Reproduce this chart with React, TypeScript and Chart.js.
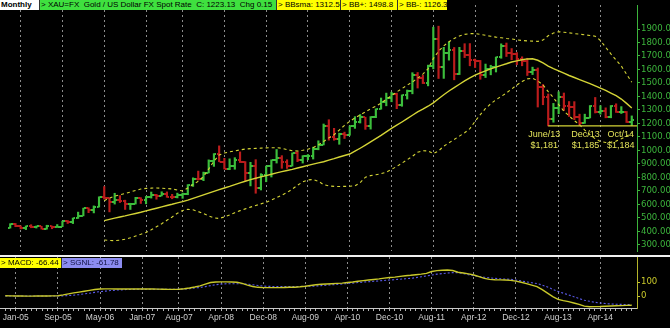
import React, { useEffect, useRef } from 'react';
import { Chart, registerables } from 'chart.js';
Chart.register(...registerables);

const months = [
  'Nov-04','Dec-04',
  'Jan-05','Feb-05','Mar-05','Apr-05','May-05','Jun-05','Jul-05','Aug-05','Sep-05','Oct-05','Nov-05','Dec-05',
  'Jan-06','Feb-06','Mar-06','Apr-06','May-06','Jun-06','Jul-06','Aug-06','Sep-06','Oct-06','Nov-06','Dec-06',
  'Jan-07','Feb-07','Mar-07','Apr-07','May-07','Jun-07','Jul-07','Aug-07','Sep-07','Oct-07','Nov-07','Dec-07',
  'Jan-08','Feb-08','Mar-08','Apr-08','May-08','Jun-08','Jul-08','Aug-08','Sep-08','Oct-08','Nov-08','Dec-08',
  'Jan-09','Feb-09','Mar-09','Apr-09','May-09','Jun-09','Jul-09','Aug-09','Sep-09','Oct-09','Nov-09','Dec-09',
  'Jan-10','Feb-10','Mar-10','Apr-10','May-10','Jun-10','Jul-10','Aug-10','Sep-10','Oct-10','Nov-10','Dec-10',
  'Jan-11','Feb-11','Mar-11','Apr-11','May-11','Jun-11','Jul-11','Aug-11','Sep-11','Oct-11','Nov-11','Dec-11',
  'Jan-12','Feb-12','Mar-12','Apr-12','May-12','Jun-12','Jul-12','Aug-12','Sep-12','Oct-12','Nov-12','Dec-12',
  'Jan-13','Feb-13','Mar-13','Apr-13','May-13','Jun-13','Jul-13','Aug-13','Sep-13','Oct-13','Nov-13','Dec-13',
  'Jan-14','Feb-14','Mar-14','Apr-14','May-14','Jun-14','Jul-14','Aug-14','Sep-14','Oct-14'
];

const tickLabels = ['Jan-05','Sep-05','May-06','Jan-07','Aug-07','Apr-08','Dec-08','Aug-09','Apr-10','Dec-10','Aug-11','Apr-12','Dec-12','Aug-13','Apr-14'];

const opens = [
  425.5,452.6,
  438.0,422.1,435.6,428.5,435.6,417.0,436.5,429.6,433.5,473.5,470.2,495.6,
  513.0,568.8,556.0,582.0,654.5,643.2,613.7,633.4,625.0,599.0,604.3,646.8,
  632.0,650.5,665.0,663.0,678.8,656.3,650.5,665.5,672.5,743.0,789.3,783.6,
  834.4,923.3,971.5,916.2,863.0,885.8,928.3,912.3,833.0,884.5,718.0,815.5,
  882.1,927.2,941.6,916.5,883.4,979.2,927.1,954.6,955.1,1008.0,1040.3,1182.0,
  1096.2,1081.5,1118.5,1113.3,1179.3,1213.2,1244.0,1181.0,1248.0,1307.0,1357.5,1386.1,
  1421.1,1333.0,1409.8,1439.0,1556.0,1536.5,1500.2,1628.3,1826.0,1620.0,1722.0,1746.0,
  1565.0,1737.0,1710.0,1669.0,1664.0,1561.0,1604.0,1615.0,1692.0,1773.0,1719.0,1713.0,
  1675.0,1663.0,1578.0,1595.0,1472.0,1393.0,1234.0,1313.0,1395.0,1326.0,1323.0,1250.0,
  1202.0,1240.0,1326.0,1284.0,1295.0,1250.0,1327.0,1282.0,1287.0,1210.0
];
const highs = [
  455.0,456.9,
  438.9,438.2,447.3,438.0,436.0,443.5,437.5,448.5,474.0,478.5,497.0,540.9,
  570.5,573.0,587.0,654.5,730.4,645.6,680.8,663.0,629.5,606.5,650.6,648.0,
  657.0,690.1,672.7,692.0,691.0,672.7,681.8,682.4,745.2,795.3,845.4,838.0,
  928.8,975.0,1032.7,940.0,936.5,945.0,988.0,915.8,910.5,930.0,826.0,883.0,
  929.0,1006.0,960.0,929.6,980.2,990.0,960.2,968.5,1023.0,1070.3,1195.0,1226.6,
  1162.8,1126.8,1134.8,1180.1,1249.4,1265.3,1245.5,1250.0,1307.5,1387.9,1424.3,1431.0,
  1424.0,1411.0,1447.3,1575.8,1577.3,1556.0,1632.0,1913.5,1921.2,1764.0,1804.0,1763.0,
  1764.0,1791.0,1792.0,1677.0,1667.0,1640.0,1631.0,1692.0,1790.0,1796.0,1755.0,1725.0,
  1694.0,1683.0,1617.0,1611.0,1488.0,1418.0,1348.0,1434.0,1425.0,1362.0,1361.0,1268.0,
  1268.0,1332.0,1392.0,1331.0,1315.0,1332.0,1345.0,1324.0,1288.0,1255.0
];
const lows = [
  422.3,432.6,
  416.2,411.1,425.0,422.6,414.7,414.5,417.5,427.5,432.5,456.5,455.7,494.1,
  513.0,536.9,535.0,578.5,637.5,542.7,600.5,612.0,560.8,560.5,600.9,605.1,
  602.4,645.0,636.8,661.0,651.0,640.1,646.3,643.1,670.0,731.7,778.6,774.2,
  832.0,880.4,915.0,860.8,855.7,859.1,908.7,775.8,735.5,681.0,705.0,766.2,
  801.5,905.0,866.0,865.0,882.6,915.2,905.0,929.5,935.0,1003.5,1039.6,1075.0,
  1074.5,1044.5,1087.5,1111.5,1162.6,1202.3,1155.3,1157.1,1242.0,1305.0,1330.0,1360.0,
  1308.8,1326.5,1380.4,1419.0,1462.0,1495.0,1478.0,1604.0,1532.7,1533.5,1669.0,1523.0,
  1562.0,1688.0,1627.0,1614.0,1527.0,1540.0,1560.0,1581.0,1683.0,1696.0,1672.0,1635.0,
  1627.0,1555.0,1562.0,1321.0,1338.0,1180.7,1208.0,1271.0,1295.0,1251.0,1227.0,1185.0,
  1200.0,1240.0,1277.0,1268.0,1241.0,1241.0,1281.0,1273.0,1206.0,1184.0
];
const closes = [
  452.6,438.0,
  422.1,435.6,428.5,435.6,417.0,436.5,429.6,433.5,473.5,470.2,495.6,513.0,
  568.8,556.0,582.0,654.5,643.2,613.7,633.4,625.0,599.0,604.3,646.8,632.0,
  650.5,665.0,663.0,678.8,656.3,650.5,665.5,672.5,743.0,789.3,783.6,834.4,
  923.3,971.5,916.2,863.0,885.8,928.3,912.3,833.0,884.5,718.0,815.5,882.1,
  927.2,941.6,916.5,883.4,979.2,927.1,954.6,955.1,1008.0,1040.3,1182.0,1096.2,
  1081.5,1118.5,1113.3,1179.3,1213.2,1244.0,1181.0,1248.0,1307.0,1357.5,1386.1,1421.1,
  1333.0,1409.8,1439.0,1556.0,1536.5,1500.2,1628.3,1826.0,1620.0,1722.0,1746.0,1565.0,
  1737.0,1710.0,1669.0,1664.0,1561.0,1604.0,1615.0,1692.0,1773.0,1719.0,1713.0,1675.0,
  1663.0,1578.0,1595.0,1472.0,1393.0,1234.0,1313.0,1395.0,1326.0,1323.0,1250.0,1202.0,
  1240.0,1326.0,1284.0,1295.0,1250.0,1327.0,1282.0,1287.0,1210.0,1223.13
];

// Bollinger bands, start at May-06
const bbMid = [
  ...Array(18).fill(null),
  478,487,496,505,513,522,531,540,550,560,570,580,590,599,609,619,630,643,656,669,
  682,695,708,720,732,745,758,770,782,792,802,812,822,832,841,850,858,868,878,888,
  897,906,915,927,938,950,961,972,993,1015,1038,1062,1086,1110,1136,1162,1186,1210,1235,1260,
  1285,1305,1327,1352,1382,1412,1440,1465,1490,1515,1538,1558,1575,1590,1604,1617,1630,1642,1655,1664,
  1672,1678,1679,1668,1648,1625,1606,1590,1572,1555,1540,1525,1510,1494,1478,1461,1444,1425,1405,1380,
  1348,1313
];
const bbUpper = [
  ...Array(18).fill(null),
  626,645,660,670,679,690,702,712,717,719,720,718,716,713,705,698,720,745,770,805,
  860,920,965,980,988,995,1003,1009,1012,1014,1016,1018,1019,1019,1015,1005,997,995,1000,1008,
  1019,1040,1065,1092,1115,1150,1185,1215,1240,1262,1285,1308,1327,1350,1378,1405,1433,1458,1483,1507,
  1535,1565,1605,1680,1735,1775,1805,1830,1848,1860,1866,1866,1860,1853,1846,1840,1835,1830,1826,1820,
  1815,1812,1810,1808,1818,1850,1870,1880,1876,1872,1866,1862,1857,1852,1847,1815,1765,1715,1670,1625,
  1565,1505
];
const bbLower = [
  ...Array(18).fill(null),
  334,331,329,333,340,350,363,376,390,410,432,455,480,505,532,553,562,558,545,530,
  512,498,494,505,520,537,552,565,578,590,602,614,630,648,667,686,712,740,765,780,
  783,770,745,735,732,731,732,733,736,760,800,812,818,826,838,858,880,905,930,955,
  985,997,995,975,995,1030,1055,1080,1105,1130,1160,1215,1265,1310,1345,1375,1400,1425,1455,1485,
  1510,1530,1535,1515,1485,1435,1390,1340,1290,1255,1220,1190,1150,1115,1085,1065,1058,1060,1068,1085,
  1105,1126
];

const macdLine = [
  2,1,0,0,-1,-1,0,0,0,1,2,8,15,22,28,34,40,46,50,51,
  51,50,50,50,50,50,50,50,50,49,48,47,47,48,52,57,64,72,85,96,
  100,101,101,100,98,90,78,68,62,60,60,60,60,61,62,63,66,70,75,80,
  84,86,88,90,92,96,100,105,110,114,118,122,128,132,135,140,145,148,152,156,
  162,175,181,184,186,182,170,164,158,150,138,126,119,116,115,114,112,106,98,88,
  78,67,45,20,-5,-24,-33,-40,-50,-60,-72,-77,-76,-75,-73,-71,-70,-69,-67,-66.44
];
const signalLine = [
  0,0,0,0,0,0,0,0,0,0,0,1,3,6,10,15,20,26,31,35,
  39,42,44,46,47,48,48,48,48,48,48,48,48,48,50,52,57,61,67,74,
  81,85,87,88,88,87,85,80,75,71,69,68,67,67,67,67,68,69,70,71,
  74,77,80,83,86,89,92,96,99,102,105,108,111,114,117,120,123,126,131,137,
  143,150,156,160,164,167,167,160,152,145,139,134,130,126,123,121,119,114,108,101,
  95,89,78,64,48,33,20,8,-5,-18,-30,-38,-45,-50,-54,-57,-59,-60,-61,-61.78
];

const priceTicks = [300,400,500,600,700,800,900,1000,1100,1200,1300,1400,1500,1600,1700,1800,1900];
const macdTicks = [0, 100];

const supportLevel = 1181;
const supportStart = 'Jun-13';
const annMonths = ['Jun-13', 'Dec-13', 'Oct-14'];
const annLabels = ['June/13', 'Dec/13', 'Oct/14'];
const annPrices = ['$1,181', '$1,185', '$1,184'];

const GREEN_BAR = '#3cbe3c';
const RED_BAR = '#bc1c1c';
const YELLOW = '#d4d436';
const TEXT_YELLOW = '#e2e25a';
const AXIS_GREEN = '#3cb43c';
const GRID = '#8c8c8c';
const FONT = '"Liberation Sans", Arial, sans-serif';
const NARROW = '"Liberation Sans Narrow", "Arial Narrow", "DejaVu Sans Condensed", sans-serif';

function tickCanvas(color: string, side: 'left' | 'right') {
  const c = document.createElement('canvas');
  c.width = 5; c.height = 2;
  const g = c.getContext('2d')!;
  g.fillStyle = color;
  if (side === 'left') g.fillRect(0, 0, 2, 2); else g.fillRect(3, 0, 2, 2);
  return c;
}

const isLabeled = (v: number) => tickLabels.includes(months[v]);

export default function App() {
  const mainRef = useRef<HTMLCanvasElement>(null);
  const macdRef = useRef<HTMLCanvasElement>(null);

  useEffect(() => {
    document.body.style.margin = '0';
    document.body.style.background = '#000';
    const up = closes.map((c, i) => c >= opens[i]);
    const openG = tickCanvas(GREEN_BAR, 'left');
    const openR = tickCanvas(RED_BAR, 'left');
    const closeG = tickCanvas(GREEN_BAR, 'right');
    const closeR = tickCanvas(RED_BAR, 'right');

    const annotationPlugin = {
      id: 'ann',
      afterDatasetsDraw(chart: any) {
        const { ctx, scales } = chart;
        const x = scales.x, y = scales.y;
        const dx = [-4, 6, -11];
        ctx.save();
        ctx.fillStyle = TEXT_YELLOW;
        ctx.font = '9px ' + FONT;
        ctx.textAlign = 'center';
        ctx.textBaseline = 'middle';
        annMonths.forEach((m, k) => {
          const px = x.getPixelForValue(months.indexOf(m)) + dx[k];
          const py = y.getPixelForValue(supportLevel);
          ctx.fillText(annLabels[k], px, py + 8.5);
          ctx.fillText(annPrices[k], px, py + 20);
        });
        ctx.restore();
      }
    };

    const xCommon = (showLabels: boolean) => ({
      type: 'linear',
      min: -1,
      max: months.length,
      offset: false,
      afterBuildTicks: (s: any) => { s.ticks = months.map((_, i) => ({ value: i })); },
      grid: {
        offset: false,
        color: (c: any) => (c.tick && isLabeled(c.tick.value) ? GRID : 'rgba(0,0,0,0)'),
        lineWidth: 1,
        drawTicks: showLabels,
        tickLength: 3,
        tickColor: '#b4b4b4',
      },
      border: { display: showLabels, color: '#c8c8c8', dash: [2, 3] },
      ticks: {
        display: showLabels,
        autoSkip: false,
        maxRotation: 0,
        minRotation: 0,
        padding: 2,
        color: '#cfcfcf',
        font: { family: FONT, size: 8.5 },
        callback: (v: number) => (isLabeled(v) ? months[v] : ''),
      },
      afterFit: (s: any) => { s.height = showLabels ? 20 : 0; s.paddingLeft = 0; s.paddingRight = 0; },
    });

    const lineDs = (vals: (number | null)[], color: string, width: number, dash: number[]) => ({
      type: 'line',
      data: vals.map((v, i) => ({ x: i, y: v })),
      borderColor: color,
      borderWidth: width,
      borderDash: dash,
      pointRadius: 0,
      fill: false,
      tension: 0,
    });

    const main = new Chart(mainRef.current!, {
      type: 'line',
      data: {
        datasets: [
          lineDs(bbMid, YELLOW, 1.4, []),
          lineDs(bbUpper, YELLOW, 1.1, [3, 3]),
          lineDs(bbLower, YELLOW, 1.1, [3, 3]),
          {
            type: 'line',
            data: [{ x: months.indexOf(supportStart), y: supportLevel }, { x: months.length, y: supportLevel }],
            borderColor: YELLOW, borderWidth: 1.4, pointRadius: 0,
          },
          {
            type: 'line',
            data: opens.map((v, i) => ({ x: i, y: v })),
            showLine: false,
            pointRadius: 2,
            pointStyle: (c: any) => (up[c.dataIndex] ? openG : openR),
          },
          {
            type: 'line',
            data: closes.map((v, i) => ({ x: i, y: v })),
            showLine: false,
            pointRadius: 2,
            pointStyle: (c: any) => (up[c.dataIndex] ? closeG : closeR),
          },
          {
            type: 'bar',
            data: lows.map((l, i) => ({ x: i, y: [l, highs[i]] })),
            backgroundColor: lows.map((_, i) => (up[i] ? GREEN_BAR : RED_BAR)),
            borderWidth: 0,
            barThickness: 1.5,
          },
        ] as any,
      },
      options: {
        animation: false,
        responsive: false,
        devicePixelRatio: 1,
        layout: { padding: 0 },
        plugins: { legend: { display: false }, tooltip: { enabled: false } },
        scales: {
          x: xCommon(false) as any,
          y: {
            type: 'linear',
            position: 'right',
            min: 252.3,
            max: 2078.3,
            beginAtZero: false,
            afterBuildTicks: (s: any) => { s.ticks = priceTicks.map(v => ({ value: v })); },
            ticks: {
              color: AXIS_GREEN,
              padding: 1,
              font: { family: NARROW, size: 9.5 },
              callback: (v: number) => Number(v).toFixed(2),
            },
            grid: { drawOnChartArea: false, drawTicks: true, tickLength: 3, tickColor: AXIS_GREEN },
            border: { display: true, color: AXIS_GREEN },
            afterFit: (s: any) => { s.width = 33; s.paddingTop = 0; s.paddingBottom = 0; },
          } as any,
        },
      },
      plugins: [annotationPlugin],
    } as any);

    const macd = new Chart(macdRef.current!, {
      type: 'line',
      data: {
        datasets: [
          lineDs(macdLine, '#c8c82a', 1.4, []),
          lineDs(signalLine, '#5a5ae8', 1.1, [2, 2]),
        ] as any,
      },
      options: {
        animation: false,
        responsive: false,
        devicePixelRatio: 1,
        layout: { padding: 0 },
        plugins: { legend: { display: false }, tooltip: { enabled: false } },
        scales: {
          x: xCommon(true) as any,
          y: {
            type: 'linear',
            position: 'right',
            min: -85.7,
            max: 278.6,
            afterBuildTicks: (s: any) => { s.ticks = macdTicks.map(v => ({ value: v })); },
            ticks: {
              color: '#c8c82a',
              padding: 1,
              font: { family: NARROW, size: 9.5 },
              callback: (v: number) => String(v),
            },
            grid: { drawOnChartArea: false, drawTicks: true, tickLength: 3, tickColor: '#c8c82a' },
            border: { display: true, color: '#b4b42a' },
            afterFit: (s: any) => { s.width = 33; s.paddingTop = 0; s.paddingBottom = 0; },
          } as any,
        },
      },
    } as any);

    return () => { main.destroy(); macd.destroy(); };
  }, []);

  const box = (bg: string, color: string, left: number, width: number, top: number, bold = false): React.CSSProperties => ({
    position: 'absolute', left, top, width, height: 10, background: bg, color,
    font: `${bold ? 'bold ' : ''}8px ${FONT}`, lineHeight: '10px', whiteSpace: 'pre', overflow: 'hidden',
    boxSizing: 'border-box', paddingLeft: 1,
  });

  return (
    <div style={{ position: 'relative', width: 670, height: 328, background: '#000', overflow: 'hidden' }}>
      <canvas ref={mainRef} width={670} height={256} style={{ position: 'absolute', left: 0, top: 0, width: 670, height: 256 }} />
      <canvas ref={macdRef} width={670} height={71} style={{ position: 'absolute', left: 0, top: 257, width: 670, height: 71 }} />
      <div style={{ position: 'absolute', left: 0, top: 255, width: 670, height: 2, background: '#f0f0f0' }} />
      <div style={box('#ffffff', '#000', 0, 39, 0, true)}>Monthly</div>
      <div style={{ ...box('#3fe03f', '#000', 39, 237, 0), borderLeft: '1px solid #333' }}>{'> XAU=FX  Gold / US Dollar FX Spot Rate  C: 1223.13  Chg 0.15'}</div>
      <div style={{ ...box('#ffff00', '#000', 276, 64, 0), borderLeft: '1px solid #333' }}>{'> BBsma: 1312.5'}</div>
      <div style={{ ...box('#ffff00', '#000', 340, 57, 0), borderLeft: '1px solid #333' }}>{'> BB+: 1498.8'}</div>
      <div style={{ ...box('#ffff00', '#000', 397, 50, 0), borderLeft: '1px solid #333' }}>{'> BB-: 1126.3'}</div>
      <div style={box('#ffff00', '#000', 0, 61, 258)}>{'> MACD: -66.44'}</div>
      <div style={{ ...box('#8c8cf0', '#101040', 61, 61, 258), borderLeft: '1px solid #333' }}>{'> SGNL: -61.78'}</div>
    </div>
  );
}
